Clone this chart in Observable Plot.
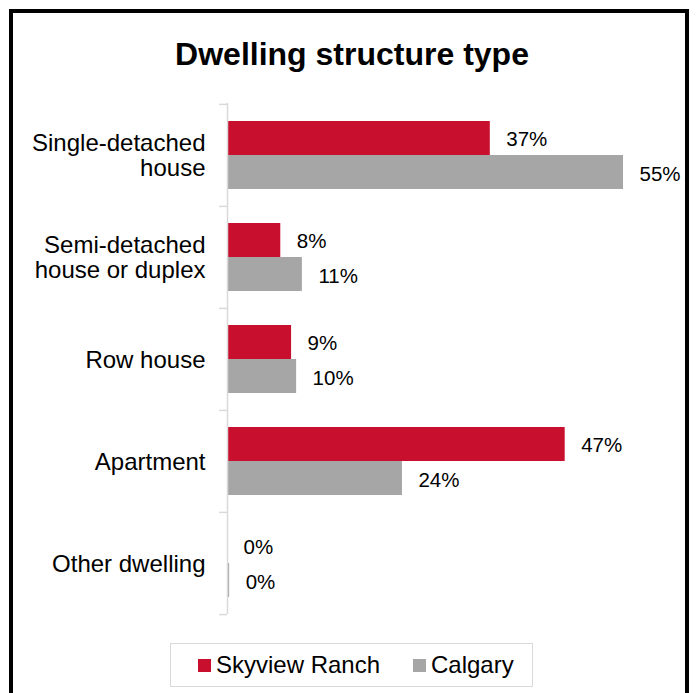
<!DOCTYPE html>
<html>
<head>
<meta charset="utf-8">
<script src="https://cdn.jsdelivr.net/npm/d3@7"></script>
<script src="https://cdn.jsdelivr.net/npm/@observablehq/plot@0.6"></script>
<style>
  html, body { margin: 0; padding: 0; background: #fff; }
  body { width: 697px; height: 693px; overflow: hidden; position: relative;
         font-family: "Liberation Sans", Arial, sans-serif; color: #000; }
  #frame { position: absolute; left: 9px; top: 9px; width: 680px; height: 720px;
           border: 4px solid #000; box-sizing: border-box; pointer-events: none; }
  #title { position: absolute; left: 9px; width: 686px; top: 38px; text-align: center;
           font-size: 32px; line-height: 32px; font-weight: bold; }
  #chart { position: absolute; left: 0; top: 0; }
  #legend { position: absolute; left: 170px; top: 643px; width: 363px; height: 44px;
            border: 1px solid #d9d9d9; box-sizing: border-box; }
  .sw { position: absolute; width: 13px; height: 13px; }
  .lt { position: absolute; font-size: 24px; line-height: 24px; white-space: nowrap; }
</style>
</head>
<body>
<div id="chart"></div>
<div id="title">Dwelling structure type</div>
<div id="legend"></div>
<div id="frame"></div>
<script>
const categories = ["Single-detached house", "Semi-detached house or duplex", "Row house", "Apartment", "Other dwelling"];
const categoryTickLabels = ["Single-detached\nhouse", "Semi-detached\nhouse or duplex", "Row house", "Apartment", "Other dwelling"];
const series = ["Skyview Ranch", "Calgary"];
const seriesColors = ["#C8102E", "#A6A6A6"];
const skyviewValues = [36.5, 7.4, 8.9, 46.9, 0];
const calgaryValues = [55, 10.4, 9.6, 24.3, 0.3];
const skyviewLabels = ["37%", "8%", "9%", "47%", "0%"];
const calgaryLabels = ["55%", "11%", "10%", "24%", "0%"];

const rows = [];
categories.forEach((c, i) => {
  rows.push({category: c, series: series[0], value: skyviewValues[i], label: skyviewLabels[i]});
  rows.push({category: c, series: series[1], value: calgaryValues[i], label: calgaryLabels[i]});
});
const sky = rows.filter(d => d.series === series[0]);
const cal = rows.filter(d => d.series === series[1]);

const W = 697, H = 640, mTop = 103, mBottom = H - 614, mLeft = 227, mRight = 2;
const step = (H - mTop - mBottom) / categories.length;
const axisColor = "#d9d9d9";

const chart = Plot.plot({
  width: W,
  height: H,
  marginTop: mTop,
  marginBottom: mBottom,
  marginLeft: mLeft,
  marginRight: mRight,
  style: {background: "transparent", fontFamily: '"Liberation Sans", Arial, sans-serif', color: "#000", overflow: "visible"},
  x: {domain: [0, 65], axis: null},
  y: {domain: categories, padding: 0, axis: null},
  marks: [
    Plot.barX(sky, {x: "value", y: "category", fill: seriesColors[0], insetTop: 17, insetBottom: 51}),
    Plot.barX(cal, {x: "value", y: "category", fill: seriesColors[1], insetTop: 51, insetBottom: 17}),
    Plot.ruleX([0], {stroke: axisColor, strokeWidth: 1.5}),
    Plot.ruleY(categories, {y: d => d, x1: -1.1, x2: 0, dy: -step / 2, stroke: axisColor, strokeWidth: 1.5}),
    Plot.ruleY(categories.slice(-1), {y: d => d, x1: -1.1, x2: 0, dy: step / 2, stroke: axisColor, strokeWidth: 1.5}),
    Plot.text(categories, {y: d => d, text: (d, i) => categoryTickLabels[i], frameAnchor: "left",
      textAnchor: "end", dx: -22, fontSize: 24, lineHeight: 1.05, fill: "#000"}),
    Plot.text(sky, {x: "value", y: "category", text: "label", textAnchor: "start", dx: 16, dy: -16, fontSize: 20.5, fill: "#000"}),
    Plot.text(cal, {x: "value", y: "category", text: "label", textAnchor: "start", dx: 16, dy: 19, fontSize: 20.5, fill: "#000"})
  ]
});
document.getElementById("chart").appendChild(chart);

// legend
const legend = document.getElementById("legend");
const legendPos = [{sw: 27, tx: 45}, {sw: 242, tx: 260}];
series.forEach((s, i) => {
  const sw = document.createElement("div");
  sw.className = "sw";
  sw.style.left = legendPos[i].sw + "px";
  sw.style.top = "15px";
  sw.style.background = seriesColors[i];
  legend.appendChild(sw);
  const t = document.createElement("div");
  t.className = "lt";
  t.style.left = legendPos[i].tx + "px";
  t.style.top = "9px";
  t.textContent = s;
  legend.appendChild(t);
});
</script>
</body>
</html>
